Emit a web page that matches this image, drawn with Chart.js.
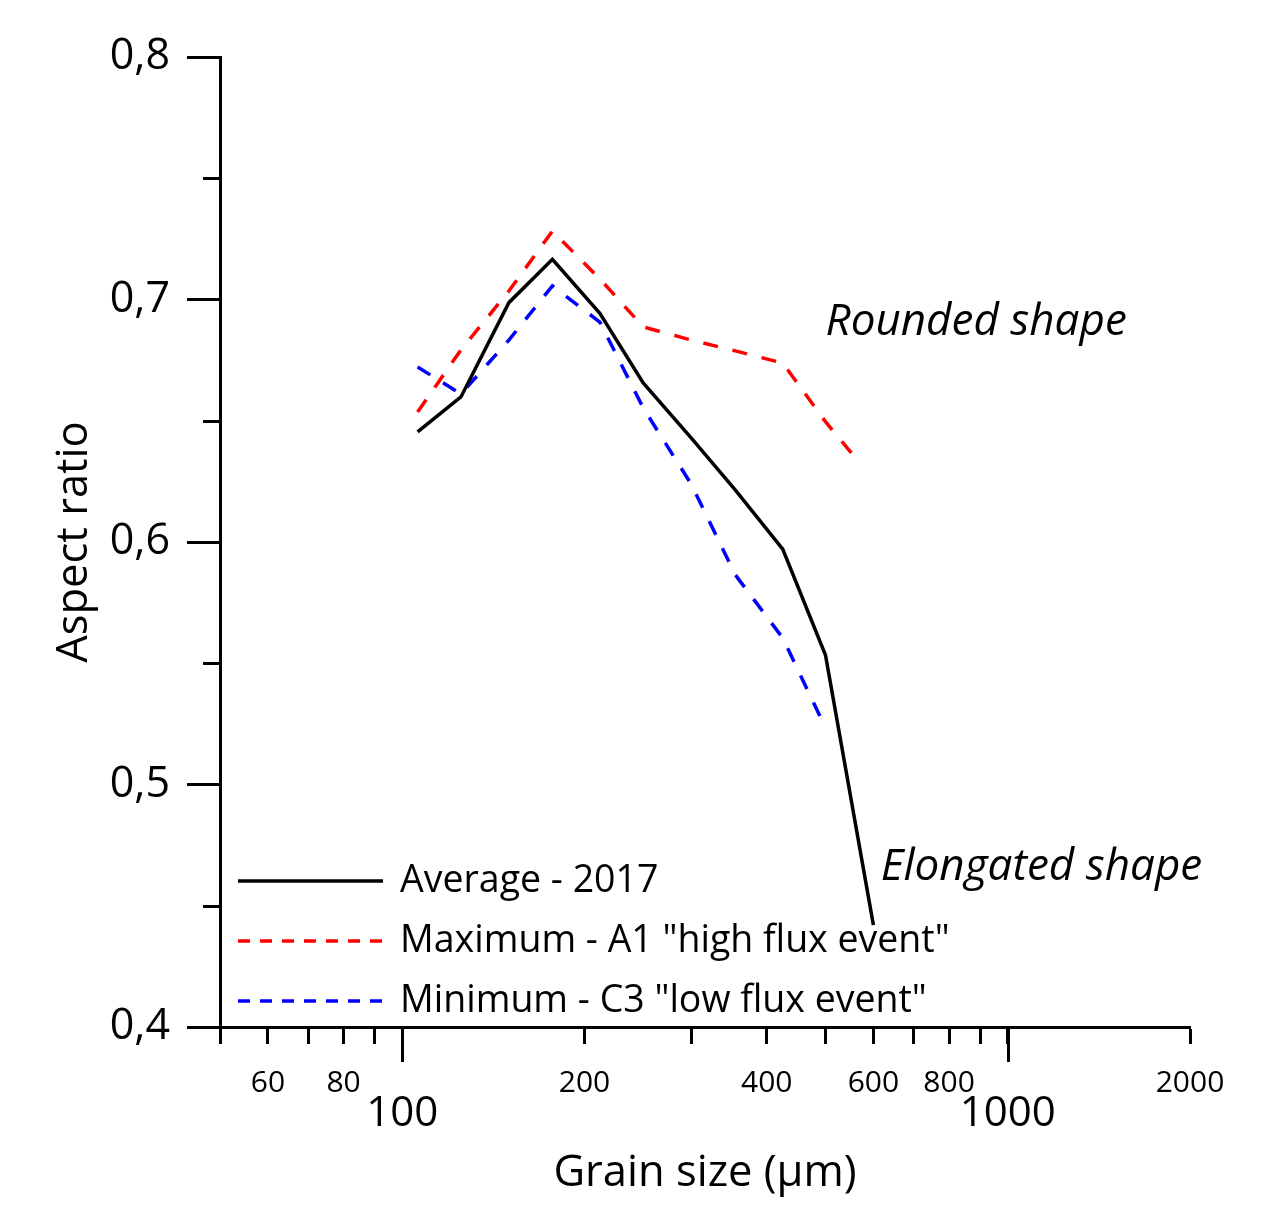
<!DOCTYPE html>
<html><head><meta charset="utf-8">
<script src="https://cdn.jsdelivr.net/npm/chart.js@4/dist/chart.umd.min.js"></script>
<style>html,body{margin:0;padding:0;background:#fff;}canvas{display:block;}</style>
</head><body>
<canvas id="c" width="1273" height="1206"></canvas>
<script>
// ---- data ----
const grainSizes = [106, 125, 150, 177, 212, 250, 300, 355, 425, 500, 600];
const averageAR  = [0.6454, 0.6598, 0.6987, 0.7166, 0.6943, 0.6656, 0.6429, 0.6214, 0.5971, 0.5534, 0.442];
const maxSizes   = [106, 125, 150, 177, 212, 250, 300, 355, 425, 500, 570];
const maximumAR  = [0.6536, 0.6792, 0.7035, 0.7282, 0.7085, 0.6887, 0.6833, 0.6788, 0.6738, 0.6496, 0.6325];
const minSizes   = [106, 125, 150, 177, 212, 250, 300, 355, 425, 500];
const minimumAR  = [0.6722, 0.6610, 0.6833, 0.7056, 0.6907, 0.6553, 0.6239, 0.5864, 0.5604, 0.5234];
const seriesLabels = ['Average - 2017', 'Maximum - A1 "high flux event"', 'Minimum - C3 "low flux event"'];
const xTickValues = [50, 60, 70, 80, 90, 100, 200, 300, 400, 500, 600, 700, 800, 900, 1000, 2000];
const xTickLabels = {60: '60', 80: '80', 100: '100', 200: '200', 400: '400', 600: '600', 800: '800', 1000: '1000', 2000: '2000'};
const xMajorTicks = [100, 1000];
const yMinorTicks = [0.45, 0.55, 0.65, 0.75];
const annotationTexts = ['Rounded shape', 'Elongated shape'];
const annotationX = [500, 617];
const annotationY = [0.6907, 0.4656];

const FONT = '"Open Sans", "DejaVu Sans", sans-serif';
const toXY = (xs, ys) => xs.map((x, i) => ({x: x, y: ys[i]}));

const extras = {
  id: 'extras',
  afterDraw(chart) {
    const ctx = chart.ctx, xs = chart.scales.x, ys = chart.scales.y, ca = chart.chartArea;
    ctx.save();
    ctx.strokeStyle = '#000';
    ctx.lineWidth = 3;
    yMinorTicks.forEach(v => {
      const p = Math.round(ys.getPixelForValue(v)) + 0.5;
      ctx.beginPath(); ctx.moveTo(ca.left - 17, p); ctx.lineTo(ca.left, p); ctx.stroke();
    });
    xMajorTicks.forEach(v => {
      const p = Math.round(xs.getPixelForValue(v)) + 0.5;
      ctx.beginPath(); ctx.moveTo(p, ca.bottom); ctx.lineTo(p, ca.bottom + 35); ctx.stroke();
    });
    // annotations
    ctx.fillStyle = '#000';
    ctx.font = 'italic 44px ' + FONT;
    ctx.textAlign = 'left';
    ctx.textBaseline = 'middle';
    annotationTexts.forEach((t, i) => {
      ctx.fillText(t, xs.getPixelForValue(annotationX[i]), ys.getPixelForValue(annotationY[i]));
    });
    // legend
    const lx = ca.left + 18, lw = 145;
    const rowY0 = ca.bottom - 146, rowStep = 60;
    ctx.font = '37.5px ' + FONT;
    chart.data.datasets.forEach((ds, i) => {
      const y = rowY0 + i * rowStep;
      ctx.strokeStyle = ds.borderColor;
      ctx.lineWidth = 3.5;
      ctx.setLineDash(ds.borderDash && ds.borderDash.length ? [12, 10] : []);
      ctx.beginPath(); ctx.moveTo(lx, y); ctx.lineTo(lx + lw, y); ctx.stroke();
      ctx.setLineDash([]);
      ctx.fillStyle = '#000';
      ctx.fillText(ds.label, lx + lw + 17, y);
    });
    ctx.restore();
  }
};

new Chart(document.getElementById('c'), {
  type: 'line',
  data: {
    datasets: [
      {label: seriesLabels[0], data: toXY(grainSizes, averageAR), borderColor: '#000000', borderWidth: 3.5, pointRadius: 0, tension: 0, fill: false},
      {label: seriesLabels[1], data: toXY(maxSizes, maximumAR), borderColor: '#ff0000', borderWidth: 3.5, borderDash: [15, 15], pointRadius: 0, tension: 0, fill: false},
      {label: seriesLabels[2], data: toXY(minSizes, minimumAR), borderColor: '#0000ff', borderWidth: 3.5, borderDash: [15, 15], pointRadius: 0, tension: 0, fill: false}
    ]
  },
  options: {
    responsive: false,
    animation: false,
    layout: {padding: {top: 57, right: 83, left: 0, bottom: 0}},
    plugins: {legend: {display: false}, tooltip: {enabled: false}},
    scales: {
      x: {
        type: 'logarithmic',
        min: 50, max: 2000,
        afterBuildTicks: s => { s.ticks = xTickValues.map(v => ({value: v})); },
        afterFit: s => { s.height = 179; },
        border: {display: true, color: '#000', width: 3},
        grid: {drawOnChartArea: false, drawTicks: true, tickLength: 17, tickWidth: 3, tickColor: '#000'},
        ticks: {
          autoSkip: false, maxRotation: 0, minRotation: 0, padding: 21, color: '#000',
          callback: v => xMajorTicks.includes(v) ? ['', xTickLabels[v]] : (xTickLabels[v] || ''),
          font: c => (c.tick && xMajorTicks.includes(c.tick.value)) ? {family: FONT, size: 42, lineHeight: 0.78} : {family: FONT, size: 30, lineHeight: 1.2}
        },
        title: {display: true, text: 'Grain size (µm)', color: '#000', font: {family: FONT, size: 43.5}, padding: {top: 0, bottom: 6}}
      },
      y: {
        type: 'linear',
        min: 0.4, max: 0.8,
        afterBuildTicks: s => { s.ticks = [0.4, 0.5, 0.6, 0.7, 0.8].map(v => ({value: v})); },
        afterFit: s => { s.width = 220; },
        border: {display: true, color: '#000', width: 3},
        grid: {drawOnChartArea: false, drawTicks: true, tickLength: 33, tickWidth: 3, tickColor: '#000'},
        ticks: {
          padding: 17, color: '#000', font: {family: FONT, size: 43},
          callback: v => Number(v).toFixed(1).replace('.', ',')
        },
        title: {display: true, text: 'Aspect ratio', color: '#000', font: {family: FONT, size: 43.5}, padding: {top: 49, bottom: 0}}
      }
    }
  },
  plugins: [extras]
});
</script>
</body></html>
